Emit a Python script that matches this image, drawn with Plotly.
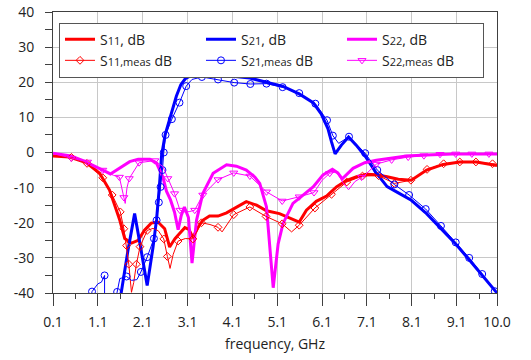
import plotly.graph_objects as go

# ---------------- data (frequency in GHz, magnitude in dB) ----------------
# Simulated S11
s11_f = [0.1, 0.47, 0.84, 1.14, 1.36, 1.44, 1.59, 1.70, 1.85, 2.00, 2.14, 2.29, 2.44, 2.59, 2.70,
         2.82, 2.93, 3.04, 3.13, 3.22, 3.33, 3.44, 3.59, 3.78, 3.97, 4.19, 4.41, 4.64, 4.86, 5.15,
         5.30, 5.45, 5.59, 5.75, 5.97, 6.20, 6.42, 6.64, 6.87, 7.09, 7.31, 7.55, 7.80, 8.09, 8.43,
         8.80, 9.17, 9.54, 9.91, 10.0]
s11_db = [-1.0, -1.3, -2.9, -5.9, -10.7, -13.6, -19.3, -24.5, -25.8, -25.0, -22.1, -20.1, -19.8, -21.7, -26.9,
          -24.5, -23.1, -21.4, -21.9, -24.2, -21.4, -19.3, -18.1, -18.1, -17.2, -15.5, -14.0, -15.0, -16.6, -17.4,
          -18.2, -19.0, -19.8, -16.4, -13.9, -12.4, -9.8, -8.0, -6.9, -6.2, -6.3, -6.9, -7.6, -7.9, -5.0,
          -3.4, -2.7, -2.7, -3.6, -3.7]

# Simulated S21
s21_f = [1.55, 1.62, 1.77, 1.92, 2.06, 2.20, 2.33, 2.41, 2.47, 2.52, 2.60, 2.74, 2.85, 2.95, 3.05,
         3.15, 3.30, 3.52, 3.74, 4.11, 4.49, 4.86, 5.23, 5.60, 5.90, 6.08, 6.23, 6.31, 6.39, 6.53,
         6.69, 6.86, 7.07, 7.29, 7.55, 7.80, 8.09, 8.43, 8.76, 9.09, 9.39, 9.69, 10.0]
s21_db = [-45.0, -40.0, -28.0, -17.4, -27.5, -37.9, -27.0, -19.0, -10.0, -1.0, 5.0, 11.5, 16.0, 19.3, 21.0,
          21.7, 22.1, 21.9, 21.9, 21.7, 21.2, 20.0, 18.8, 16.6, 14.2, 11.0, 6.8, 3.0, -0.4, 2.1,
          4.4, 2.1, -1.2, -5.5, -9.7, -11.5, -13.6, -17.4, -21.7, -26.2, -30.7, -35.2, -40.0]

# Simulated S22
s22_f = [0.1, 0.5, 0.77, 1.07, 1.21, 1.38, 1.55, 1.81, 2.0, 2.26, 2.41, 2.48, 2.55, 2.63, 2.72,
         2.81, 2.89, 2.96, 3.03, 3.12, 3.20, 3.30, 3.44, 3.67, 3.97, 4.19, 4.41, 4.60, 4.71, 4.86,
         5.01, 5.12, 5.23, 5.45, 5.67, 5.90, 6.12, 6.33, 6.45, 6.55, 6.79, 7.05, 7.31, 7.61, 7.98,
         8.43, 9.0, 10.0]
s22_db = [-0.2, -1.0, -2.3, -4.0, -5.0, -6.1, -4.8, -2.6, -1.9, -1.9, -3.1, -5.0, -7.0, -11.0, -13.5,
          -17.0, -22.0, -17.9, -15.5, -18.5, -31.5, -19.3, -11.7, -5.9, -3.5, -3.9, -5.0, -7.0, -8.8, -15.5,
          -38.5, -26.0, -20.2, -14.5, -12.1, -9.8, -6.4, -4.8, -5.8, -7.5, -4.5, -2.9, -2.2, -1.7, -1.0,
          -0.7, -0.4, -0.4]

# Measured S11 (trace and marker points)
s11m_f = [0.1, 0.51, 0.86, 1.21, 1.42, 1.60, 1.68, 1.74, 1.79, 1.85, 1.90, 1.96, 2.04, 2.20, 2.33,
          2.45, 2.57, 2.65, 2.71, 2.78, 2.89, 3.05, 3.22, 3.41, 3.60, 3.78, 3.87, 4.13, 4.49, 4.85,
          5.21, 5.42, 5.59, 5.94, 6.31, 6.65, 7.00, 7.36, 7.71, 8.08, 8.44, 8.81, 9.17, 9.53, 9.90, 10.0]
s11m_db = [-0.8, -1.4, -3.1, -7.2, -12.1, -16.9, -21.7, -26.5, -31.8, -39.8, -37.0, -31.8, -26.8, -22.2, -21.6,
           -22.3, -24.6, -29.6, -33.0, -29.0, -25.2, -24.5, -24.6, -20.0, -20.5, -21.3, -22.6, -17.7, -15.5, -18.2,
           -20.3, -22.6, -20.7, -15.8, -11.9, -8.4, -6.7, -6.6, -8.8, -7.9, -4.8, -3.2, -2.7, -2.7, -3.2, -3.4]
s11m_mk_f = [0.51, 0.86, 1.21, 1.42, 1.60, 1.68, 1.74, 1.79, 1.96, 2.04, 2.20, 2.57, 2.65, 2.89, 3.22,
             3.41, 3.78, 4.13, 4.49, 4.85, 5.21, 5.59, 5.94, 6.31, 6.65, 7.00, 7.36, 7.71, 8.08, 8.44,
             8.81, 9.17, 9.53, 9.90]
s11m_mk_db = [-1.4, -3.1, -7.2, -12.1, -16.9, -21.7, -26.5, -31.8, -31.8, -26.8, -22.2, -24.6, -29.6, -25.2, -24.6,
              -20.0, -21.3, -17.7, -15.5, -18.2, -20.3, -20.7, -15.8, -11.9, -8.4, -6.7, -6.6, -8.8, -7.9, -4.8,
              -3.2, -2.7, -2.7, -3.2]

# Measured S21 (None = break in the measured trace)
s21m_f = [0.95, 0.97, 1.10, 1.18, 1.25, 1.25, None, 1.51, 1.53, 1.59, 1.74, 1.85, 1.97, 2.06, 2.20,
          2.35, 2.41, 2.46, 2.50, 2.54, 2.57, 2.61, 2.75, 2.92, 3.07, 3.20, 3.42, 3.78, 4.14, 4.50,
          4.86, 5.22, 5.59, 5.95, 6.21, 6.34, 6.47, 6.70, 7.06, 7.33, 7.71, 8.04, 8.41, 8.75, 9.08,
          9.38, 9.67, 9.95, 10.0]
s21m_db = [-41.0, -39.6, -37.4, -36.9, -35.0, -41.0, None, -41.0, -39.7, -35.9, -35.3, -36.4, -36.2, -34.0, -29.8,
           -24.5, -19.3, -14.2, -9.8, -5.0, 0.0, 5.0, 9.5, 14.2, 18.9, 20.8, 21.5, 20.8, 19.9, 19.5,
           19.6, 18.6, 16.9, 13.9, 9.2, 4.8, 2.6, 4.5, -0.2, -5.0, -9.1, -12.1, -16.1, -20.9, -25.6,
           -30.0, -34.6, -39.5, -40.3]
s21m_mk_f = [0.97, 1.25, 1.53, 1.74, 2.06, 2.20, 2.35, 2.41, 2.46, 2.50, 2.54, 2.57, 2.61, 2.75, 2.92,
             3.07, 3.42, 3.78, 4.14, 4.50, 4.86, 5.22, 5.59, 5.95, 6.21, 6.34, 6.70, 7.06, 7.33, 7.71,
             8.04, 8.41, 8.75, 9.08, 9.38, 9.67, 9.95]
s21m_mk_db = [-39.6, -35.0, -39.7, -35.3, -34.0, -29.8, -24.5, -19.3, -14.2, -9.8, -5.0, 0.0, 5.0, 9.5, 14.2,
              18.9, 21.5, 20.8, 19.9, 19.5, 19.6, 18.6, 16.9, 13.9, 9.2, 4.8, 4.5, -0.2, -5.0, -9.1,
              -12.1, -16.1, -20.9, -25.6, -30.0, -34.6, -39.5]

# Measured S22
s22m_f = [0.1, 0.51, 0.87, 1.21, 1.45, 1.58, 1.68, 1.71, 1.75, 1.80, 2.02, 2.37, 2.55, 2.66, 2.81,
          2.93, 3.05, 3.15, 3.26, 3.44, 3.78, 4.13, 4.49, 4.86, 5.21, 5.59, 5.92, 6.10, 6.27, 6.42,
          6.56, 6.69, 6.83, 7.05, 7.31, 7.65, 8.02, 8.37, 8.73, 9.08, 9.44, 9.82, 10.0]
s22m_db = [-0.3, -1.6, -2.7, -5.0, -6.5, -7.0, -12.8, -14.5, -10.0, -7.4, -2.9, -2.3, -4.0, -7.4, -11.7,
           -16.4, -17.0, -16.8, -16.4, -12.1, -7.7, -5.8, -6.7, -11.2, -13.8, -12.6, -11.4, -7.9, -5.9, -5.5,
           -8.5, -10.6, -8.3, -6.5, -3.3, -2.1, -1.3, -0.9, -0.5, -0.4, -0.4, -0.4, -0.4]
s22m_mk_f = [0.51, 0.87, 1.21, 1.58, 1.68, 1.80, 2.02, 2.37, 2.66, 2.81, 2.93, 3.26, 3.44, 3.78, 4.13,
             4.49, 4.86, 5.21, 5.59, 5.92, 6.27, 6.98, 7.31, 7.65, 8.02, 8.37, 8.73, 9.08, 9.44, 9.82]
s22m_mk_db = [-1.6, -2.7, -5.0, -7.0, -12.8, -7.4, -2.9, -2.3, -7.4, -11.7, -16.4, -16.4, -12.1, -7.7, -5.8,
              -6.7, -11.2, -13.8, -12.6, -11.4, -5.9, -7.0, -3.3, -2.1, -1.3, -0.9, -0.5, -0.4, -0.4, -0.4]

# Axis ticks
x_tick_vals = [0.1, 1.1, 2.1, 3.1, 4.1, 5.1, 6.1, 7.1, 8.1, 9.1, 10.0]
x_tick_text = ["0.1", "1.1", "2.1", "3.1", "4.1", "5.1", "6.1", "7.1", "8.1", "9.1", "10.0"]
x_minor_vals = [0.6, 1.6, 2.6, 3.6, 4.6, 5.6, 6.6, 7.6, 8.6, 9.6]
y_tick_vals = [-40, -30, -20, -10, 0, 10, 20, 30, 40]
y_tick_text = ["-40", "-30", "-20", "-10", "0", "10", "20", "30", "40"]

# ---------------- styling ----------------
RED = "#FF0000"
BLUE = "#0000FF"
MAG = "#FF00FF"
AXC = "#404040"
GRID = "#C8C8C8"
FONT = "Open Sans"


def sub(s):
    return "<span style='font-size:11px'>" + s + "</span>"


fig = go.Figure()

# simulated (thick) curves
sim = [("11", s11_f, s11_db, RED), ("21", s21_f, s21_db, BLUE), ("22", s22_f, s22_db, MAG)]
for k, (idx, f, d, c) in enumerate(sim):
    fig.add_trace(go.Scatter(x=f, y=d, mode="lines", line=dict(color=c, width=3),
                             name="S" + sub(idx) + ", dB", legendrank=k + 1))

# measured (thin) curves with markers
meas = [("11", s11m_f, s11m_db, s11m_mk_f, s11m_mk_db, RED, "diamond-open", 6),
        ("21", s21m_f, s21m_db, s21m_mk_f, s21m_mk_db, BLUE, "circle-open", 7),
        ("22", s22m_f, s22m_db, s22m_mk_f, s22m_mk_db, MAG, "triangle-down-open", 7)]
for k, (idx, f, d, mf, md, c, sym, sz) in enumerate(meas):
    grp = "m" + idx
    mk = dict(symbol=sym, size=sz, color=c, line=dict(color=c, width=1))
    fig.add_trace(go.Scatter(x=f, y=d, mode="lines", line=dict(color=c, width=1),
                             legendgroup=grp, showlegend=False, connectgaps=False))
    fig.add_trace(go.Scatter(x=mf, y=md, mode="markers", marker=mk,
                             legendgroup=grp, showlegend=False, cliponaxis=True))
    fig.add_trace(go.Scatter(x=[None], y=[None], mode="lines+markers",
                             line=dict(color=c, width=1), marker=mk, legendgroup=grp,
                             name="S" + sub(idx + ",meas") + " dB", legendrank=k + 4))

fig.update_layout(
    width=531, height=360,
    margin=dict(l=53, r=34, t=12, b=67, autoexpand=False),
    paper_bgcolor="white", plot_bgcolor="white",
    font=dict(family=FONT, size=14, color="#222222"),
    showlegend=True, hovermode=False,
    legend=dict(
        orientation="h", x=0.0135, y=0.9625, xanchor="left", yanchor="top",
        bgcolor="white", bordercolor="#555555", borderwidth=1,
        entrywidth=96, entrywidthmode="pixels", tracegroupgap=0,
        font=dict(family=FONT, size=14, color="#222222"),
        traceorder="normal", itemclick=False, itemdoubleclick=False,
    ),
)

fig.update_xaxes(
    range=[0.1, 10.0], tickmode="array", tickvals=x_tick_vals, ticktext=x_tick_text,
    showgrid=True, gridcolor=GRID, gridwidth=1, zeroline=False,
    showline=True, linecolor=AXC, linewidth=1, mirror=True, automargin=False,
    ticks="outside", ticklen=12, tickcolor=AXC, tickwidth=1,
    ticklabelstandoff=4, ticklabeloverflow="allow",
    minor=dict(tickmode="array", tickvals=x_minor_vals, ticks="outside", ticklen=5,
               tickcolor=AXC, showgrid=False),
    tickfont=dict(family=FONT, size=14, color="#222222"),
    title=dict(text="frequency, GHz", font=dict(family=FONT, size=14, color="#222222"), standoff=9),
)
fig.update_yaxes(
    range=[-40, 40], tickmode="array", tickvals=y_tick_vals, ticktext=y_tick_text,
    showgrid=True, gridcolor=GRID, gridwidth=1, zeroline=False,
    showline=True, linecolor=AXC, linewidth=1, mirror=True, automargin=False,
    ticks="outside", ticklen=7, tickcolor=AXC, tickwidth=1,
    ticklabelstandoff=8, ticklabeloverflow="allow",
    minor=dict(dtick=5, ticks="outside", ticklen=7, tickcolor=AXC, showgrid=False),
    tickfont=dict(family=FONT, size=14, color="#222222"),
)

# remove the default 8 px page margin so the figure sits at the window origin
fig.write_html("out.html", config={"displayModeBar": False, "staticPlot": True},
               post_script="document.body.style.margin='0px';")
